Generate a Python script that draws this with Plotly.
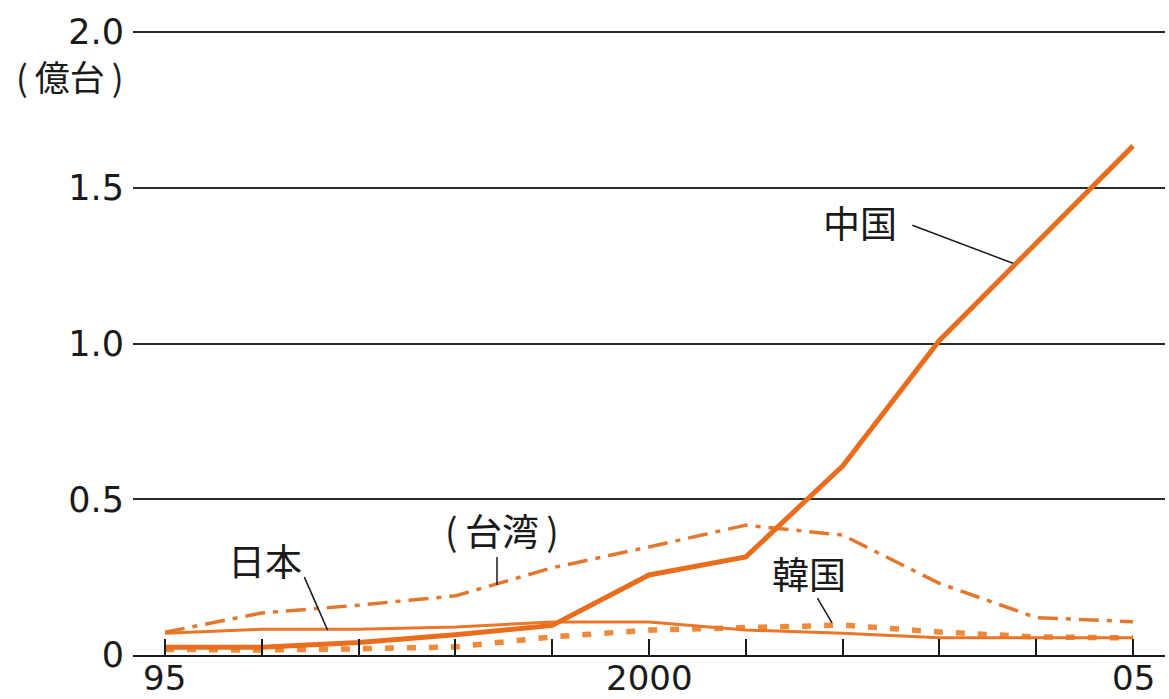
import plotly.graph_objects as go

# Annual production, hundred-million units (億台)
years = list(range(1995, 2006))
china = [0.025, 0.025, 0.04, 0.065, 0.095, 0.257, 0.315, 0.607, 1.01, 1.32, 1.635]
taiwan = [0.073, 0.135, 0.16, 0.19, 0.28, 0.347, 0.417, 0.385, 0.23, 0.12, 0.107]
japan = [0.07, 0.083, 0.083, 0.09, 0.106, 0.106, 0.08, 0.07, 0.055, 0.055, 0.055]
korea = [0.018, 0.016, 0.02, 0.026, 0.058, 0.08, 0.088, 0.096, 0.074, 0.058, 0.055]

x_tick_vals = years
x_label_vals = [1995, 2000, 2005]
x_label_text = ["95", "2000", "05"]
y_tick_vals = [0, 0.5, 1.0, 1.5, 2.0]
y_tick_text = ["0", "0.5", "1.0", "1.5", "2.0"]

ORANGE = "#EA6D1D"
NUM_FONT = "DejaVu Sans"
JP_FONT = "Noto Sans CJK JP"
INK = "#1a1a1a"

fig = go.Figure()
fig.add_trace(go.Scatter(x=years, y=taiwan, mode="lines", name="台湾",
                         line=dict(color="#E3782C", width=3.5, dash="20px,8px,5px,8px")))
fig.add_trace(go.Scatter(x=years, y=korea, mode="lines", name="韓国",
                         line=dict(color="#EE8A3A", width=5.5, dash="9px,13px")))
fig.add_trace(go.Scatter(x=years, y=japan, mode="lines", name="日本",
                         line=dict(color="#EA7628", width=3)))
fig.add_trace(go.Scatter(x=years, y=china, mode="lines", name="中国",
                         line=dict(color=ORANGE, width=5)))

# series labels with thin leader lines
labels = [
    ("中国", 2002.18, 1.39, (2002.72, 1.380, 2003.76, 1.258)),
    ("日本", 1996.03, 0.305, (1996.44, 0.250, 1996.68, 0.080)),
    ("(\u2009台湾\u2009)", 1998.48, 0.40, (1998.43, 0.315, 1998.43, 0.225)),
    ("韓国", 2001.65, 0.263, (2001.74, 0.183, 2001.89, 0.103)),
]
for text, tx, ty, (x0, y0, x1, y1) in labels:
    fig.add_annotation(x=tx, y=ty, text=text, showarrow=False,
                       xanchor="center", yanchor="middle",
                       font=dict(family=JP_FONT, size=37, color=INK))
    fig.add_shape(type="line", x0=x0, y0=y0, x1=x1, y1=y1,
                  line=dict(color=INK, width=1.5))

# year labels under the baseline
for xv, txt in zip(x_label_vals, x_label_text):
    fig.add_annotation(x=xv, xref="x", y=0, yref="paper", text=txt, showarrow=False,
                       xanchor="center", yanchor="top", yshift=-2, borderpad=0,
                       font=dict(family=NUM_FONT, size=34, color=INK))

# unit label under the top tick
fig.add_annotation(xref="paper", yref="y", x=-0.061, y=1.86, text="(\u2009億台\u2009)",
                   xanchor="center", yanchor="middle", showarrow=False,
                   font=dict(family=JP_FONT, size=35, color=INK))

fig.update_layout(
    width=1169, height=699,
    margin=dict(l=133, r=4, t=26, b=44),
    paper_bgcolor="white", plot_bgcolor="white",
    showlegend=False,
    xaxis=dict(range=[1994.67, 2005.33], tickvals=x_tick_vals, showticklabels=False,
               ticks="inside", ticklen=16, tickwidth=2, tickcolor=INK,
               showline=True, linecolor=INK, linewidth=2,
               showgrid=False, zeroline=False, automargin=False),
    yaxis=dict(range=[0, 2.02], tickvals=y_tick_vals, ticktext=y_tick_text,
               showgrid=True, gridcolor="#2a2a2a", gridwidth=1.5,
               zeroline=False, showline=False, ticks="", ticklabelstandoff=8,
               automargin=False,
               tickfont=dict(family=NUM_FONT, size=35, color=INK)),
)

fig.write_html("out.html")
